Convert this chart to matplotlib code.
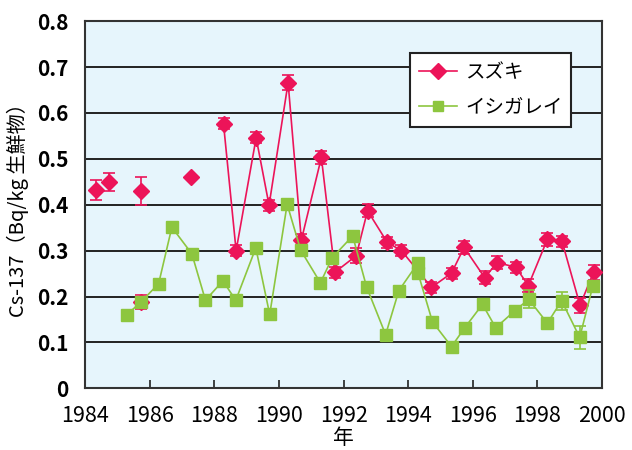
import numpy as np
import matplotlib.pyplot as plt

plt.rcParams['font.family'] = ['Noto Sans CJK JP', 'DejaVu Sans']

# スズキ (年, 値, 誤差)
suzuki_year = [1984.32, 1984.73, 1985.72, 1985.72, 1987.28,
               1988.28, 1988.67, 1989.29, 1989.69, 1990.28, 1990.69, 1991.31, 1991.73,
               1992.39, 1992.74, 1993.35, 1993.79, 1994.72, 1995.34, 1995.73, 1996.37,
               1996.75, 1997.33, 1997.72, 1998.31, 1998.76, 1999.32, 1999.74]
suzuki_val = [0.432, 0.449, 0.430, 0.188, 0.460,
              0.576, 0.300, 0.546, 0.399, 0.666, 0.323, 0.503, 0.253,
              0.289, 0.387, 0.318, 0.300, 0.220, 0.251, 0.307, 0.241,
              0.274, 0.264, 0.224, 0.325, 0.321, 0.181, 0.253]
suzuki_err = [0.022, 0.020, 0.030, 0.016, 0.0,
              0.012, 0.012, 0.012, 0.012, 0.016, 0.014, 0.014, 0.012,
              0.016, 0.014, 0.012, 0.012, 0.012, 0.012, 0.014, 0.014,
              0.014, 0.012, 0.014, 0.014, 0.012, 0.016, 0.016]

# イシガレイ
ishigarei_year = [1985.28, 1985.72, 1986.27, 1986.68, 1987.30, 1987.72, 1988.26, 1988.66,
                  1989.28, 1989.71, 1990.25, 1990.67, 1991.28, 1991.65, 1992.28, 1992.71,
                  1993.30, 1993.71, 1994.30, 1994.30, 1994.75, 1995.34, 1995.75, 1996.30,
                  1996.71, 1997.30, 1997.73, 1998.31, 1998.75, 1999.31, 1999.72]
ishigarei_val = [0.160, 0.188, 0.228, 0.351, 0.293, 0.192, 0.234, 0.192,
                 0.306, 0.161, 0.401, 0.301, 0.230, 0.285, 0.332, 0.221,
                 0.117, 0.213, 0.273, 0.252, 0.145, 0.091, 0.132, 0.183,
                 0.132, 0.169, 0.194, 0.142, 0.191, 0.111, 0.224]
ishigarei_err = [0, 0, 0, 0, 0, 0, 0, 0,
                 0, 0, 0, 0, 0, 0, 0, 0,
                 0, 0, 0, 0, 0, 0, 0, 0,
                 0, 0, 0.020, 0, 0.020, 0.025, 0]

red = '#EC1459'
green = '#8DC63F'

sx = np.array(suzuki_year)
sy = np.array(suzuki_val)
se = np.array(suzuki_err)
gx = np.array(ishigarei_year)
gy = np.array(ishigarei_val)
ge = np.array(ishigarei_err)

fig = plt.figure(figsize=(6.32, 4.5), dpi=100)
ax = fig.add_axes([0.135, 0.137, 0.8175, 0.816])
ax.set_facecolor('#E6F5FC')

# グリッド線
for v in np.arange(0.1, 0.8, 0.1):
    ax.axhline(v, color='#222222', lw=1.4, zorder=1)

# 誤差棒
m = se > 0
ax.errorbar(sx[m], sy[m], yerr=se[m], fmt='none', ecolor=red, elinewidth=1.2,
            capsize=4, capthick=1.2, zorder=3)
m = ge > 0
ax.errorbar(gx[m], gy[m], yerr=ge[m], fmt='none', ecolor=green, elinewidth=1.2,
            capsize=4, capthick=1.2, zorder=5)

# 線は1988年以降のみ連続
line = sx > 1988
ax.plot(sx[line], sy[line], '-', color=red, lw=1.2, zorder=3)
ax.plot(sx, sy, 'D', color=red, ms=8.5, zorder=4)
ax.plot(gx, gy, '-', color=green, lw=1.2, zorder=5)
ax.plot(gx, gy, 's', color=green, ms=8, zorder=6)

# 凡例用
h1, = ax.plot([], [], '-D', color=red, ms=8.5, lw=1.2)
h2, = ax.plot([], [], '-s', color=green, ms=7.5, lw=1.2)

ax.set_xlim(1984, 2000)
ax.set_ylim(0, 0.8)
ax.set_xticks(np.arange(1984, 2001, 2))
ax.set_yticks(np.arange(0, 0.81, 0.1))
ax.set_yticklabels(['0', '0.1', '0.2', '0.3', '0.4', '0.5', '0.6', '0.7', '0.8'],
                   fontsize=15, fontweight='bold')
ax.set_xticklabels([str(y) for y in range(1984, 2001, 2)], fontsize=15.5)
ax.tick_params(axis='x', direction='in', length=6, width=1.2, pad=12, colors='#222222')
ax.tick_params(axis='x', labelcolor='black')
ax.tick_params(axis='y', length=0, pad=12)
for s in ax.spines.values():
    s.set_color('#333333')
    s.set_linewidth(1.5)

ax.set_xlabel('年', fontsize=15, labelpad=0)
ax.set_ylabel('Cs-137（Bq/kg 生鮮物）', fontsize=14.5, labelpad=6)

leg = ax.legend([h1, h2], ['スズキ', 'イシガレイ'], loc='upper left',
                bbox_to_anchor=(0.628, 0.912), fontsize=14, frameon=True,
                fancybox=False, framealpha=1, edgecolor='#222222',
                handlelength=2.0, handletextpad=0.4, borderpad=0.45,
                labelspacing=0.7, borderaxespad=0)
leg.get_frame().set_linewidth(1.5)
leg.set_zorder(10)

plt.savefig('out.png', dpi=100)
